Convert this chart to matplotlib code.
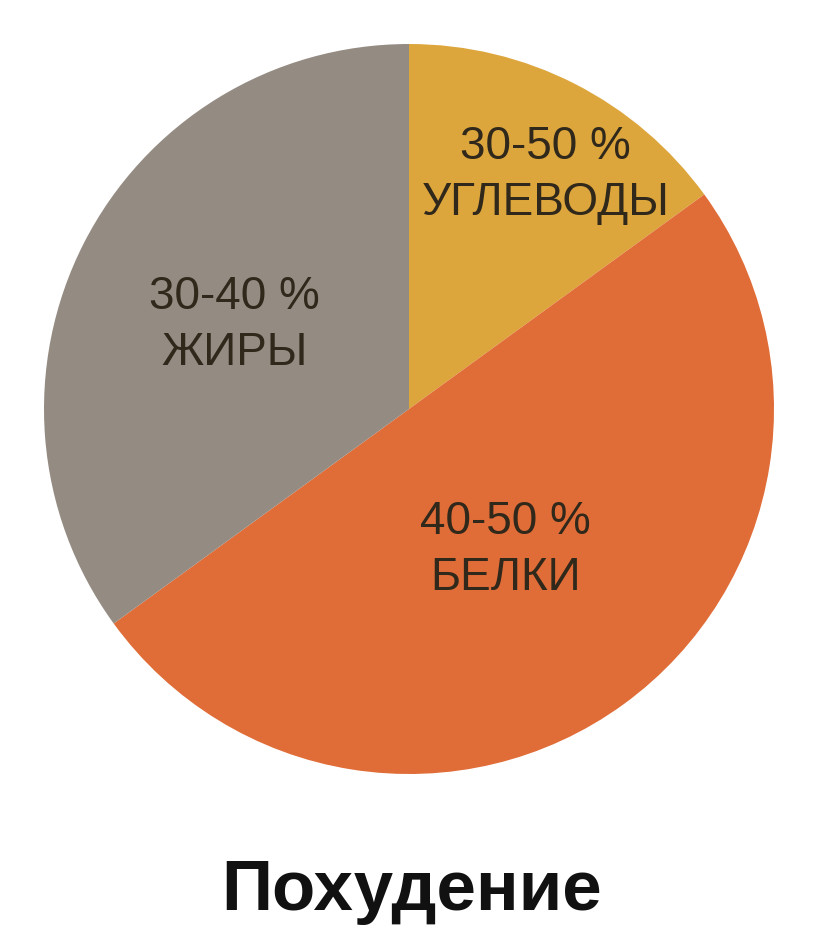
import numpy as np
import matplotlib
matplotlib.use("Agg")
import matplotlib.pyplot as plt

# slices, clockwise from 12 o'clock
shares = [15, 50, 35]
ranges = ["30-50 %", "40-50 %", "30-40 %"]
names = ["УГЛЕВОДЫ", "БЕЛКИ", "ЖИРЫ"]
colors = ["#DDA63D", "#E06C37", "#948B83"]
label_r = [0.75, 0.45, 0.54]
label_nudge = [(9, -7), (0, -6), (1, -4)]  # points
title = "Похудение"

plt.rcParams["font.family"] = ["Liberation Sans", "DejaVu Sans"]

W, H = 824, 948
fig = plt.figure(figsize=(W / 100, H / 100), dpi=100)
cx, cy, r = 409, 409, 365
ax = fig.add_axes([(cx - r) / W, (H - cy - r) / H, 2 * r / W, 2 * r / H])
wedges, _ = ax.pie(shares, colors=colors, startangle=90, counterclock=False,
                   radius=1, wedgeprops=dict(linewidth=0))
for w, rng, nm, lr, nd in zip(wedges, ranges, names, label_r, label_nudge):
    mid = np.deg2rad((w.theta1 + w.theta2) / 2)
    ax.annotate(rng + "\n" + nm, (lr * np.cos(mid), lr * np.sin(mid)), xytext=nd,
                textcoords="offset points", ha="center", va="center",
                fontsize=33, color="#30281a", linespacing=1.35)
ax.set_xlim(-1, 1); ax.set_ylim(-1, 1)
ax.set_aspect("equal"); ax.axis("off")

fig.text(0.5, 1 - 892 / H, title, ha="center", va="center", fontsize=51,
         fontweight="bold", color="#111111")
fig.savefig("out.png", dpi=100, facecolor="white")
